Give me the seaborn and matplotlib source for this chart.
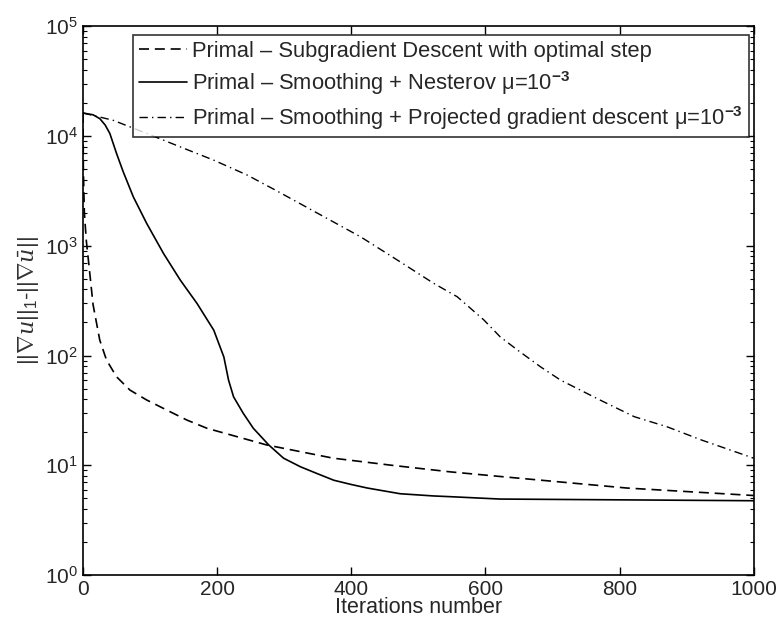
import numpy as np
import pandas as pd
import matplotlib
matplotlib.use("Agg")
import matplotlib.pyplot as plt
import seaborn as sns
from matplotlib.ticker import LogLocator, NullFormatter

################ DATA ################

# Primal - subgradient descent with optimal step (dashed)
sub_iter = [0, 0.5, 2, 5, 9, 15, 25, 35, 50, 70, 95, 125, 155, 185,
            274, 373, 460, 548, 622, 811, 1000]
sub_val = [16200, 5000, 2000, 1100, 650, 290, 138, 91, 64, 48.4, 39.3, 31.8, 25.8, 21.7,
           15.3, 11.6, 10.0, 8.7, 7.9, 6.2, 5.3]

# Primal - smoothing + Nesterov (solid)
nest_iter = [0, 15, 25, 33, 40, 50, 60, 75, 95, 120, 145, 170, 195, 210, 217, 224.5, 239, 254,
             277, 299, 324, 349, 374, 399, 424, 473, 523, 548, 622, 1000]
nest_val = [16200, 15600, 14400, 12600, 10550, 6930, 4710, 2790, 1595, 851, 487, 298, 170, 97, 59.7, 42,
            29.7, 21.7, 15.3, 11.6, 9.7, 8.4, 7.3, 6.7, 6.2, 5.5, 5.25, 5.17, 4.92, 4.75]

# Primal - smoothing + projected gradient descent (dash-dot)
proj_iter = [0, 45, 95, 145, 195, 245, 287, 414, 473, 523, 558, 598, 622, 648,
             682, 712, 772, 822, 871, 922, 1000]
proj_val = [16200, 13900, 10550, 7960, 6020, 4400, 3210, 1205, 713, 454, 343, 210, 148, 112,
            79, 59.7, 39, 27.7, 22.4, 17, 11.6]

labels = [
    "Primal – Subgradient Descent with optimal step",
    r"Primal – Smoothing + Nesterov μ=10$^{\mathbf{-3}}$",
    r"Primal – Smoothing + Projected gradient descent μ=10$^{\mathbf{-3}}$",
]

################ STYLE ################

sns.set_style("ticks")
plt.rcParams['font.family'] = ['Liberation Sans', 'DejaVu Sans']
plt.rcParams['mathtext.fontset'] = 'custom'
plt.rcParams['mathtext.rm'] = 'Liberation Sans'
plt.rcParams['mathtext.bf'] = 'Liberation Sans:bold'
plt.rcParams['mathtext.it'] = 'DejaVu Serif:italic'

fig = plt.figure(figsize=(7.78, 6.25), dpi=100)
ax = fig.add_axes([0.1067, 0.08, 0.862, 0.878])

df_sub = pd.DataFrame({'it': sub_iter, 'val': sub_val})
df_nest = pd.DataFrame({'it': nest_iter, 'val': nest_val})
df_proj = pd.DataFrame({'it': proj_iter, 'val': proj_val})

sns.lineplot(data=df_sub, x='it', y='val', ax=ax, color='black', lw=1.2,
             linestyle=(0, (6, 3.5)), label=labels[0])
sns.lineplot(data=df_nest, x='it', y='val', ax=ax, color='black', lw=1.2,
             linestyle='-', label=labels[1])
sns.lineplot(data=df_proj, x='it', y='val', ax=ax, color='black', lw=1.0,
             linestyle=(0, (6, 3, 1, 3)), label=labels[2])

ax.set_yscale('log')
ax.set_xlim(0, 1000)
ax.set_ylim(1, 1e5)
ax.set_xticks([0, 200, 400, 600, 800, 1000])
ax.yaxis.set_major_locator(LogLocator(base=10, numticks=10))
ax.yaxis.set_minor_locator(LogLocator(base=10, subs=np.arange(2, 10), numticks=50))
ax.yaxis.set_minor_formatter(NullFormatter())

ax.tick_params(which='both', direction='in', top=True, right=True, labelsize=15, color='black')
ax.tick_params(which='major', length=6, width=1)
ax.tick_params(which='minor', length=3, width=0.8)
for s in ax.spines.values():
    s.set_linewidth(1.2)
    s.set_color('black')

ax.set_xlabel("Iterations number", fontsize=15.5, labelpad=-1)
ax.set_ylabel(r"$||\nabla u||_1$-$||\nabla\bar{u}||$", fontsize=16, labelpad=2, color='#333333')

leg = ax.legend(loc='upper right', bbox_to_anchor=(0.9925, 0.9836), fontsize=15.75,
                frameon=True, fancybox=False, edgecolor='black', handlelength=2.2,
                handletextpad=0.25, labelspacing=0.33, borderpad=0.25, borderaxespad=0)
leg.get_frame().set_linewidth(1.2)

fig.savefig("out.png", dpi=100)
